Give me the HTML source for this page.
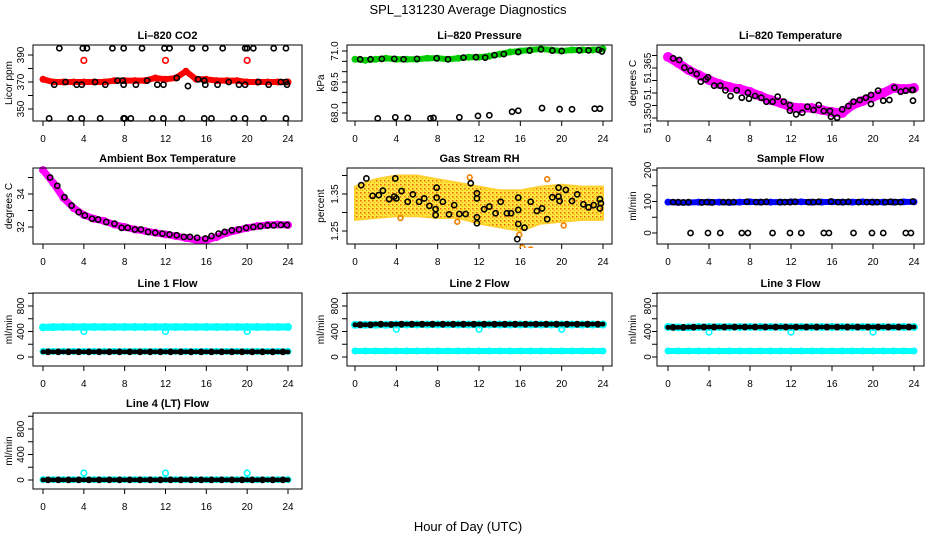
<!DOCTYPE html>
<html><head><meta charset="utf-8"><style>
body{margin:0;background:#fff}
svg{display:block;font-family:"Liberation Sans",sans-serif}
</style></head><body>
<svg id="c" width="936" height="540" viewBox="0 0 936 540">
<text x="468" y="14" text-anchor="middle" font-size="13">SPL_131230  Average Diagnostics</text>
<text x="468" y="531" text-anchor="middle" font-size="13">Hour of Day (UTC)</text>
</svg>
<script>
const HOURS=[0,1,2,3,4,5,6,7,8,9,10,11,12,13,14,15,16,17,18,19,20,21,22,23,24];
const XTICKS=[0,4,8,12,16,20,24];
const SPIKE_HOURS=[4,12,20];
// CO2
const co2Red=[372,370,370,370,370,370,370,371,371,371,371,373,372,373,378,372,372,371,371,371,370,370,370,370,370];
const co2RedOut=[386,386,386];
const co2BlkH=[1.6,3.9,4.3,6.8,7.9,9.7,11.9,12.4,14.6,15.9,17.6,19.8,20.0,20.6,22.6,23.8,0.6,2.7,3.8,5.6,7.9,8.0,8.6,10.7,11.8,13.6,15.8,16.5,18.7,19.8,21.6,23.8,1.1,2.2,3.3,3.8,5.1,6.1,7.3,7.8,7.9,9.1,10.2,11.2,11.8,13.1,14.2,15.2,15.8,15.9,17.1,18.2,19.2,19.8,21.1,22.1,23.3,23.8,23.9];
const co2BlkV=[395,395,395,395,395,395,395,395,395,395,395,395,395,395,395,395,343,343,343,343,343,343,343,343,343,343,343,343,343,343,343,343,368,370,368,368,370,368,371,371,368,368,371,368,368,373,367,372,371,368,368,370,368,368,370,368,370,370,368];
// Pressure
const presGreen=[70.6,70.55,70.6,70.65,70.6,70.6,70.6,70.65,70.65,70.6,70.65,70.7,70.7,70.75,70.85,70.95,71.0,71.05,71.1,71.05,71.0,71.05,71.05,71.05,71.1];
const presBlkH=[2.2,3.9,5.1,7.3,7.6,10.1,11.9,13.0,15.2,15.8,18.1,19.8,21.0,23.2,23.7,0.5,1.5,2.6,3.8,4.7,6.0,7.9,9.0,10.5,11.7,12.6,13.5,14.4,15.8,16.9,18.0,19.1,20.0,21.7,22.6,23.6,23.9];
const presBlkV=[67.74,67.79,67.76,67.74,67.76,67.79,67.86,67.89,68.06,68.11,68.24,68.19,68.18,68.21,68.21,70.6,70.6,70.62,70.62,70.6,70.62,70.65,70.6,70.68,70.7,70.68,70.8,70.85,70.95,71.02,71.08,71.02,71.0,71.03,71.03,71.05,70.98];
// Li-820 temperature
const tempMag=[51.3683,51.3665,51.3644,51.3629,51.3614,51.3602,51.3593,51.3587,51.3578,51.3566,51.3554,51.3545,51.3533,51.3530,51.3530,51.3524,51.3518,51.3515,51.3539,51.3551,51.3563,51.3575,51.3590,51.3587,51.3590];
const tempBlkH=[0.5,1.1,1.6,2.2,2.8,3.2,3.7,3.9,4.5,5.1,5.6,6.1,6.7,7.2,7.8,7.9,8.5,9.1,9.6,10.2,10.7,11.3,11.9,11.9,12.5,13.1,13.6,14.2,14.7,15.2,15.8,15.9,16.5,17.0,17.6,18.1,18.7,19.3,19.8,19.8,20.5,21.0,21.6,22.1,22.7,23.2,23.8,23.9,23.9];
const tempBlkV=[51.3679,51.3674,51.3651,51.3642,51.3632,51.3609,51.3616,51.3622,51.3597,51.3597,51.3583,51.3566,51.3583,51.3561,51.3576,51.3558,51.3566,51.3561,51.3549,51.3549,51.3564,51.3549,51.3539,51.3522,51.3511,51.3516,51.3534,51.3524,51.3539,51.3521,51.3521,51.3504,51.3501,51.3526,51.3536,51.3549,51.3554,51.3561,51.3542,51.3569,51.3582,51.3552,51.3554,51.3591,51.3579,51.3582,51.3584,51.3552,51.3584];
// Ambient box temperature
const ambMag=[35.45,34.67,33.76,33.15,32.73,32.5,32.36,32.15,32.0,31.85,31.76,31.65,31.55,31.45,31.33,31.21,31.2,31.39,31.64,31.8,31.94,32.05,32.12,32.15,32.12];
const ambBlkH=[0.7,1.4,2.1,2.8,3.5,4.1,4.8,5.4,6.2,7.0,7.7,8.3,9.0,9.6,10.3,11.0,11.7,12.4,13.1,13.8,14.4,15.1,15.9,16.5,17.2,17.8,18.5,19.2,19.9,20.6,21.3,22.0,22.6,23.3,23.9];
const ambBlkV=[35.0,34.5,33.8,33.3,32.9,32.7,32.5,32.45,32.3,32.2,31.95,31.95,31.85,31.85,31.7,31.65,31.6,31.55,31.5,31.4,31.4,31.35,31.3,31.45,31.6,31.7,31.8,31.85,31.95,32.0,32.05,32.1,32.1,32.12,32.12];
// Gas stream RH
const rhBandH=[0,2,4,6,8,10,12,14,16,18,20,22,24];
const rhUpper=[1.37,1.39,1.40,1.40,1.39,1.38,1.37,1.36,1.36,1.37,1.375,1.37,1.37];
const rhLower=[1.28,1.285,1.29,1.29,1.285,1.285,1.27,1.26,1.25,1.27,1.275,1.28,1.28];
const rhOutH=[15.9,16.2,17.0,4.4,9.9,11.1,18.6,20.2];
const rhOutV=[1.24,1.205,1.20,1.285,1.275,1.395,1.39,1.265];
const rhBlkH=[0.6,1.1,1.7,2.3,2.7,3.3,3.8,3.9,4.0,4.5,5.1,5.6,6.2,6.7,7.2,7.8,7.8,7.9,7.9,8.5,9.1,9.6,10.1,10.7,11.2,11.8,11.8,11.8,11.8,12.5,13.0,13.6,14.1,14.7,15.1,15.8,15.8,15.8,15.7,16.4,17.0,17.6,18.1,18.6,19.1,19.7,19.7,19.8,20.4,21.0,21.5,22.1,22.6,23.1,23.7,23.7,23.8];
const rhBlkV=[1.374,1.392,1.345,1.347,1.359,1.336,1.343,1.392,1.338,1.358,1.329,1.349,1.329,1.338,1.318,1.309,1.293,1.34,1.367,1.329,1.295,1.320,1.296,1.296,1.379,1.352,1.338,1.287,1.271,1.309,1.316,1.298,1.329,1.298,1.298,1.307,1.34,1.269,1.228,1.259,1.329,1.304,1.311,1.282,1.341,1.343,1.367,1.331,1.361,1.331,1.349,1.322,1.314,1.320,1.336,1.311,1.325];
// Sample flow
const sfBlue=[98,97,97,98,98,98,97,98,99,98,98,98,99,99,98,98,99,98,98,99,98,98,98,99,99];
const sfBlkH=[2.2,3.9,5.1,7.2,7.8,10.2,11.9,13.0,15.2,15.7,18.1,19.9,21.0,23.2,23.7,0.5,1.0,1.5,2.0,3.3,3.8,4.3,5.4,5.9,6.4,7.7,8.6,9.1,9.6,10.9,11.4,11.9,12.4,13.7,14.2,14.7,15.9,16.6,17.1,17.6,18.6,19.4,19.9,20.4,21.2,21.7,22.2,22.7,23.9];
const sfBlkV=[0,0,0,0,0,0,0,0,0,0,0,0,0,0,0,98,98,97,98,97,98,97,98,98,98,99,98,98,99,98,98,98,99,98,98,99,100,98,98,99,98,98,98,98,98,99,98,98,100];
// Line flows
const l1CyanHi=[465,468,470,470,470,470,470,470,470,470,470,470,470,470,470,470,470,470,470,470,470,470,470,470,470];
const l1CyanLo=[88,88,88,88,88,88,88,88,88,88,88,88,88,88,88,88,88,88,88,88,88,88,88,88,88];
const l1Blk=[80,80,80,80,80,80,80,80,80,80,80,80,80,80,80,80,80,80,80,80,80,80,80,80,80];
const l1Dips=[400,400,400];
const l2CyanHi=[505,505,505,505,510,510,510,510,510,510,510,510,510,510,510,510,510,510,510,510,510,510,510,510,510];
const l2CyanLo=[95,95,95,95,95,95,95,95,95,95,95,95,95,95,95,95,95,95,95,95,95,95,95,95,95];
const l2Blk=[505,505,515,510,515,515,515,515,515,515,515,515,515,515,515,515,515,515,515,515,515,515,515,515,515];
const l2Dips=[435,435,435];
const l3CyanHi=[470,465,465,470,470,470,470,470,470,470,470,470,470,470,470,470,470,470,470,470,470,470,470,470,470];
const l3CyanLo=[95,95,95,95,95,95,95,95,95,95,95,95,95,95,95,95,95,95,95,95,95,95,95,95,95];
const l3Blk=[465,465,468,470,470,470,470,470,470,470,470,470,470,470,470,470,470,470,470,470,470,470,470,470,470];
const l3Dips=[390,390,390];
const l4Cyan=[5,5,5,5,5,5,5,5,5,5,5,5,5,5,5,5,5,5,5,5,5,5,5,5,5];
const l4Blk=[2,2,2,2,2,2,2,2,2,2,2,2,2,2,2,2,2,2,2,2,2,2,2,2,2];
const l4Spikes=[110,110,110];

const svg=document.getElementById('c');
const NS='http://www.w3.org/2000/svg';
function mk(tag,attrs,parent){const e=document.createElementNS(NS,tag);for(const k in attrs)e.setAttribute(k,attrs[k]);(parent||svg).appendChild(e);return e;}

const COLS=[{l:33,r:302,x0:43,x24:288,yl:12,tl:24},{l:347,r:612,x0:355,x24:603,yl:324,tl:338},{l:657,r:924,x0:668,x24:914,yl:636,tl:651}];
const ROWS=[{t:45,b:121},{t:168,b:244},{t:293,b:366},{t:413,b:489}];

function panel(name,title,col,row,ylab,v0,p0,v1,p1,ticks,labels){
  const C=COLS[col],R=ROWS[row];
  const g=mk('g',{});
  
  
  const sx=h=>C.x0+(C.x24-C.x0)*h/24;
  const sy=v=>p0+(v-v0)*(p1-p0)/(v1-v0);
  const t=mk('text',{x:(C.l+C.r)/2,y:R.t-6,'text-anchor':'middle','font-size':11,'font-weight':'bold'},g);
  t.textContent=title;
  
  
  const ax=mk('g',{stroke:'#000','stroke-width':1},g);
  
  
  XTICKS.forEach(h=>{mk('line',{x1:sx(h),x2:sx(h),y1:R.b,y2:R.b+5},ax);
    const tl=mk('text',{x:sx(h),y:R.b+21,'text-anchor':'middle','font-size':10,stroke:'none'},ax);tl.textContent=h;});
  const ay=mk('g',{stroke:'#000','stroke-width':1},g);
  
  
  ticks.forEach(v=>mk('line',{x1:C.l,x2:C.l-5,y1:sy(v),y2:sy(v)},ay));
  labels.forEach(([v,s])=>{const y=sy(v);const tl=mk('text',{x:C.tl,y:y,'text-anchor':'middle','font-size':10,stroke:'none',transform:`rotate(-90 ${C.tl} ${y})`},ay);tl.textContent=s;});
  const yc=(R.t+R.b)/2;
  const yt=mk('text',{x:C.yl,y:yc,'text-anchor':'middle','font-size':10,transform:`rotate(-90 ${C.yl} ${yc})`},g);
  yt.textContent=ylab;
  
  
  const cp='clip-'+name;
  const cpe=mk('clipPath',{id:cp},g);mk('rect',{x:C.l,y:R.t-4,width:C.r-C.l,height:R.b-R.t+8},cpe);
  const plot=mk('g',{'clip-path':`url(#${cp})`},g);
  const box=mk('rect',{x:C.l,y:R.t,width:C.r-C.l,height:R.b-R.t,fill:'none',stroke:'#000','stroke-width':1},g);
  
  
  return {sx,sy,plot,name};
}
function dense(P,hs,vs,color,w,label){
  const s=mk('g',{},P.plot);
  
  
  mk('polyline',{points:hs.map((h,i)=>P.sx(h)+','+P.sy(vs[i])).join(' '),fill:'none',stroke:color,'stroke-width':w,'stroke-linecap':'round','stroke-linejoin':'round'},s);
  hs.forEach((h,i)=>mk('circle',{cx:P.sx(h),cy:P.sy(vs[i]),r:w/2+0.5,fill:color},s));
}
function pts(P,hs,vs,color,label,r){
  const s=mk('g',{fill:'none',stroke:color,'stroke-width':1.6},P.plot);
  
  
  hs.forEach((h,i)=>mk('circle',{cx:P.sx(h),cy:P.sy(vs[i]),r:r||2.4},s));
}
function blkDense(P,hs,vs,label){
  dense(P,hs,vs,'#000',4,label+'-line');
  pts(P,hs.map(h=>h+0.5).filter(h=>h<24),vs.slice(0,24),'#000',label+'-points',2.6);
}

// Panel 1: CO2
let P=panel('co2-panel','Li–820 CO2',0,0,'Licor ppm',350,109,390,55,[350,360,370,380,390],[[350,'350'],[370,'370'],[390,'390']]);
dense(P,HOURS,co2Red,'#f00',6,'red-series');
pts(P,SPIKE_HOURS,co2RedOut,'#f00','red-outliers',2.8);
pts(P,co2BlkH,co2BlkV,'#000','black-points',2.6);

// Panel 2: pressure
P=panel('pressure-panel','Li–820 Pressure',1,0,'kPa',71,51,68,113,[68,68.5,69,69.5,70,70.5,71],[[68,'68.0'],[69.5,'69.5'],[71,'71.0']]);
dense(P,HOURS,presGreen,'#0c0',6,'green-series');
pts(P,presBlkH,presBlkV,'#000','black-points',2.6);

// Panel 3: Li-820 temperature
P=panel('li820-temp-panel','Li–820 Temperature',2,0,'degrees C',51.350,118,51.365,68,[51.350,51.35375,51.3575,51.36125,51.365,51.36875],[[51.350,'51.350'],[51.3575,'51.'],[51.365,'51.365']]);
dense(P,HOURS,tempMag,'#f0f',9,'magenta-series');
pts(P,tempBlkH,tempBlkV,'#000','black-points',2.6);

// Panel 4: ambient
P=panel('ambient-temp-panel','Ambient Box Temperature',0,1,'degrees C',34,194,32,227,[32,33,34,35],[[32,'32'],[34,'34']]);
dense(P,HOURS,ambMag,'#f0f',7,'magenta-series');
pts(P,ambBlkH,ambBlkV,'#000','black-points',2.6);

// Panel 5: RH
P=panel('rh-panel','Gas Stream RH',1,1,'percent',1.35,194,1.25,231,[1.25,1.30,1.35,1.40],[[1.25,'1.25'],[1.35,'1.35']]);
{const defs=mk('defs',{});const pat=mk('pattern',{id:'rhpat',width:4,height:4,patternUnits:'userSpaceOnUse'},defs);
 mk('rect',{width:4,height:4,fill:'#ffe640'},pat);mk('rect',{width:1.5,height:1.5,fill:'#f06000'},pat);mk('rect',{x:2,y:2,width:1,height:1,fill:'#f0a000'},pat);
 const band=mk('polygon',{points:rhBandH.map((h,i)=>P.sx(h)+','+P.sy(rhUpper[i])).concat(rhBandH.slice().reverse().map((h,i)=>P.sx(h)+','+P.sy(rhLower[rhLower.length-1-i]))).join(' '),fill:'url(#rhpat)',stroke:'#ffd030','stroke-width':2,'stroke-linejoin':'round'},P.plot);
 
 }
pts(P,rhOutH,rhOutV,'#f08000','orange-outliers',2.4);
pts(P,rhBlkH,rhBlkV,'#000','black-points',2.6);

// Panel 6: sample flow
P=panel('sample-flow-panel','Sample Flow',2,1,'ml/min',0,233,200,170,[0,50,100,150,200],[[0,'0'],[100,'100'],[200,'200']]);
dense(P,HOURS,sfBlue,'#00f',6,'blue-series');
pts(P,sfBlkH,sfBlkV,'#000','black-points',2.6);

const flowTicks=[0,200,400,600,800,1000],flowLabels=[[0,'0'],[400,'400'],[800,'800']];
// Panel 7: line 1
P=panel('line1-flow-panel','Line 1 Flow',0,2,'ml/min',0,357,800,306,flowTicks,flowLabels);
dense(P,HOURS,l1CyanHi,'#0ff',7,'cyan-high');
dense(P,HOURS,l1CyanLo,'#0ff',6,'cyan-low');
pts(P,SPIKE_HOURS,l1Dips,'#0ff','cyan-dips',2.8);
blkDense(P,HOURS,l1Blk,'black');
// Panel 8: line 2
P=panel('line2-flow-panel','Line 2 Flow',1,2,'ml/min',0,357,800,306,flowTicks,flowLabels);
dense(P,HOURS,l2CyanHi,'#0ff',7,'cyan-high');
dense(P,HOURS,l2CyanLo,'#0ff',6,'cyan-low');
pts(P,SPIKE_HOURS,l2Dips,'#0ff','cyan-dips',2.8);
blkDense(P,HOURS,l2Blk,'black');
// Panel 9: line 3
P=panel('line3-flow-panel','Line 3 Flow',2,2,'ml/min',0,357,800,306,flowTicks,flowLabels);
dense(P,HOURS,l3CyanHi,'#0ff',7,'cyan-high');
dense(P,HOURS,l3CyanLo,'#0ff',6,'cyan-low');
pts(P,SPIKE_HOURS,l3Dips,'#0ff','cyan-dips',2.8);
blkDense(P,HOURS,l3Blk,'black');
// Panel 10: line 4
P=panel('line4-flow-panel','Line 4 (LT) Flow',0,3,'ml/min',0,480,800,429,flowTicks,flowLabels);
dense(P,HOURS,l4Cyan,'#0ff',6,'cyan-series');
pts(P,SPIKE_HOURS,l4Spikes,'#0ff','cyan-spikes',2.8);
blkDense(P,HOURS,l4Blk,'black');
</script>
</body></html>
